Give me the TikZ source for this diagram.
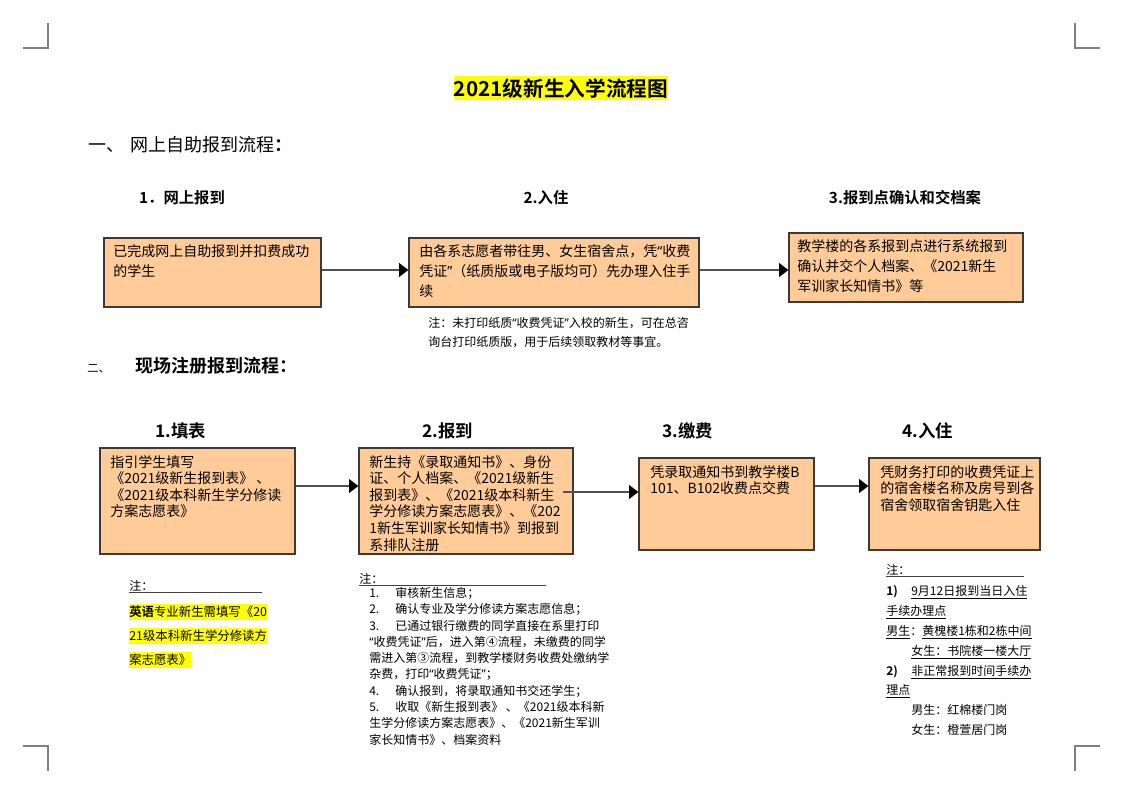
\documentclass[tikz,border=0pt]{standalone}
\usepackage{fontspec}
\setmainfont{Noto Sans CJK SC}[BoldFont={Noto Sans CJK SC Bold}]
\newfontfamily\quotefont{Noto Sans}
\usetikzlibrary{arrows.meta,fit}
\definecolor{peach}{RGB}{255,204,153}
\definecolor{boxline}{RGB}{64,56,50}
\definecolor{linegray}{RGB}{80,80,80}
\definecolor{cropgray}{RGB}{128,128,128}
\definecolor{hiyellow}{RGB}{255,255,0}
\newcommand\textlines[1]{\begin{tabular}[t]{@{}l@{}}#1\end{tabular}}
\newcommand\qo{{\quotefont “}}
\newcommand\qc{{\quotefont ”}}
\tikzset{>={Triangle[length=7pt,width=10.5pt,color=black]}}
\tikzset{
  stepbox/.style={draw=boxline, line width=1pt, fill=peach, inner sep=0pt},
  boxtext/.style={anchor=base west, inner sep=0pt, font=\fontsize{10.5}{15}\selectfont},
  boxtight/.style={boxtext, font=\fontsize{10.5}{11.9}\selectfont},
  notetext/.style={anchor=base west, inner sep=0pt, font=\fontsize{9}{14.25}\selectfont},
  steplabel/.style={anchor=base, inner sep=0pt, font=\bfseries\fontsize{11.5}{14}\selectfont},
  stepbig/.style={anchor=base, inner sep=0pt, font=\bfseries\fontsize{13}{16}\selectfont},
  hilite/.style={anchor=base west, fill=hiyellow, inner xsep=0pt, inner ysep=1.5pt, font=\fontsize{9.3}{12}\selectfont},
  flow/.style={->, draw=linegray, line width=0.9pt},
  rule/.style={draw=black!75, line width=0.6pt},
  cropmark/.style={draw=cropgray, line width=1pt}
}

\begin{document}
\begin{tikzpicture}[x=0.75pt,y=-0.75pt]
  \useasboundingbox (0,0) rectangle (1123,794);

  % corner marks
  \foreach \cx/\cy/\dx/\dy in {48/48/-1/-1, 1075/48/1/-1, 48/746/-1/1, 1075/746/1/1}
    \draw[cropmark] (\cx,{\cy+25*(\dy)}) -- (\cx,\cy) -- ({\cx+25*(\dx)},\cy);

  \node[anchor=base, fill=hiyellow, inner xsep=0pt, inner ysep=1.5pt,
    font=\bfseries\fontsize{15.5}{19}\selectfont] (title) at (561,96) {2021级新生入学流程图};

  % part one: online
  \node[anchor=base west, inner sep=0pt, font=\fontsize{13.5}{16}\selectfont] (sec1)
    at (88,151) {一、\hspace{5pt}网上自助报到流程{\bfseries ：}};

  \node[steplabel] (s1) at (182,203) {1．网上报到};
  \node[steplabel] (s2) at (546,203) {2.入住};
  \node[steplabel] (s3) at (905,203) {3.报到点确认和交档案};

  \node[stepbox, fit={(104,238) (321,307)}] (b1) {};
  \node[stepbox, fit={(409,238) (699,307)}] (b2) {};
  \node[stepbox, fit={(789,233) (1023,302)}] (b3) {};

  \node[boxtext] (b1t) at (113,256) {\textlines{已完成网上自助报到并扣费成功\\的学生}};
  \node[boxtext] (b2t) at (419,256) {\textlines{由各系志愿者带往男、女生宿舍点，凭\qo 收费\\凭证\qc（纸质版或电子版均可）先办理入住手\\续}};
  \node[boxtext] (b3t) at (797,251) {\textlines{教学楼的各系报到点进行系统报到\\确认并交个人档案、《2021新生\\军训家长知情书》等}};

  \draw[flow] (b1.east |- 0,270) -- (b2.west |- 0,270);
  \draw[flow] (b2.east |- 0,270) -- (b3.west |- 0,270);

  \node[notetext] (b2n) at (428,327.6)
    {\textlines{注：未打印纸质\qo 收费凭证\qc 入校的新生，可在总咨\\询台打印纸质版，用于后续领取教材等事宜。}};

  % part two: on site
  \node[anchor=base west, inner sep=0pt, font=\fontsize{8.5}{10}\selectfont] (sec2no) at (87,372) {二、};
  \node[anchor=base west, inner sep=0pt, font=\bfseries\fontsize{13.5}{16}\selectfont] (sec2)
    at (135,372.4) {现场注册报到流程：};

  \node[stepbig] (t1) at (181,437) {1.填表};
  \node[stepbig] (t2) at (448,437) {2.报到};
  \node[stepbig] (t3) at (688,437) {3.缴费};
  \node[stepbig] (t4) at (928,437) {4.入住};

  \node[stepbox, fit={(100,448) (295,554)}] (c1) {};
  \node[stepbox, fit={(359,448) (573,554)}] (c2) {};
  \node[stepbox, fit={(639,458) (814,550)}] (c3) {};
  \node[stepbox, fit={(869,458) (1040,550)}] (c4) {};

  \node[boxtight] (c1t) at (110,467) {\textlines{指引学生填写\\《2021级新生报到表》 、\\《2021级本科新生学分修读\\方案志愿表》}};
  \node[boxtight] (c2t) at (369,467) {\textlines{新生持《录取通知书》、身份\\证、个人档案、《2021级新生\\报到表》、《2021级本科新生\\学分修读方案志愿表》、《202\\1新生军训家长知情书》到报到\\系排队注册}};
  \node[boxtight] (c3t) at (650,477) {\textlines{凭录取通知书到教学楼B\\101、B102收费点交费}};
  \node[boxtight] (c4t) at (880,477) {\textlines{凭财务打印的收费凭证上\\的宿舍楼名称及房号到各\\宿舍领取宿舍钥匙入住}};

  \draw[flow] (c1.east |- 0,486) -- (c2.west |- 0,486);
  \draw[flow] ([xshift=-8.25pt]c2.east |- 0,492) -- (c3.west |- 0,492);
  \draw[flow] (c3.east |- 0,486) -- (c4.west |- 0,486);

  % notes
  \node[notetext] (z1) at (129,590.6) {注：};
  \draw[rule] ([yshift=-1.5pt]z1.base west) -- ++(133,0);
  \node[hilite] (n1a) at (129,616.6) {{\bfseries 英语}专业新生需填写《20};
  \node[hilite] (n1b) at (129,640.6) {21级本科新生学分修读方};
  \node[hilite] (n1c) at (129,664.6) {案志愿表》};

  \node[notetext] (z2) at (359,583.6) {注：};
  \draw[rule] ([yshift=-1.5pt]z2.base west) -- ++(187,0);
  \node[notetext, font=\fontsize{9}{12.2}\selectfont] (n2) at (369,597.6)
    {\textlines{\makebox[19.5pt][l]{1.}审核新生信息；\\
     \makebox[19.5pt][l]{2.}确认专业及学分修读方案志愿信息；\\
     \makebox[19.5pt][l]{3.}已通过银行缴费的同学直接在系里打印\\
     \qo 收费凭证\qc 后，进入第④流程，未缴费的同学\\
     需进入第③流程，到教学楼财务收费处缴纳学\\
     杂费，打印\qo 收费凭证\qc ；\\
     \makebox[19.5pt][l]{4.}确认报到，将录取通知书交还学生；\\
     \makebox[19.5pt][l]{5.}收取《新生报到表》 、《2021级本科新\\
     生学分修读方案志愿表》、《2021新生军训\\
     家长知情书》、档案资料}};

  \node[notetext] (z3) at (886,574.6) {注：};
  \draw[rule] ([yshift=-1.5pt]z3.base west) -- ++(138,0);
  \node[notetext, font=\fontsize{9}{14.9}\selectfont] (n3) at (886,595.6)
    {\textlines{\makebox[18.75pt][l]{\bfseries 1)}\underline{9月12日报到当日入住}\\
     \underline{手续办理点}\\
     \underline{男生}：\underline{黄槐楼1栋和2栋中间}\\
     \hspace*{18.75pt}\underline{女生：书院楼一楼大厅}\\
     \makebox[18.75pt][l]{\bfseries 2)}\underline{非正常报到时间手续办}\\
     \underline{理点}\\
     \hspace*{18.75pt}男生：红棉楼门岗\\
     \hspace*{18.75pt}女生：橙萱居门岗}};
\end{tikzpicture}
\end{document}
